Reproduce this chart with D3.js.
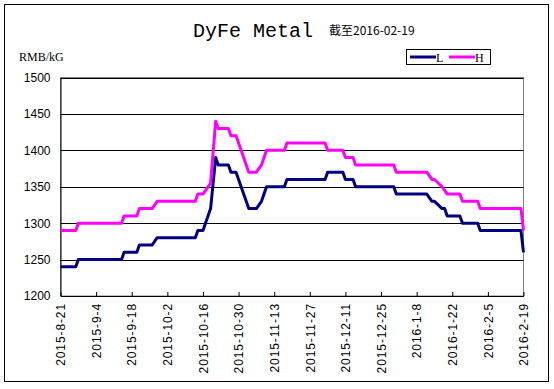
<!DOCTYPE html>
<html>
<head>
<meta charset="utf-8">
<script src="https://cdn.jsdelivr.net/npm/d3@7"></script>
<style>
  html, body { margin: 0; padding: 0; background: #fff; }
  svg { display: block; }
</style>
</head>
<body>
<div id="chart"></div>
<script>
// ---- data ----
const dates = [
  "2015-08-21","2015-08-27","2015-08-28","2015-09-14","2015-09-15","2015-09-20","2015-09-21",
  "2015-09-26","2015-09-28","2015-10-13","2015-10-14","2015-10-16","2015-10-19","2015-10-21",
  "2015-10-22","2015-10-26","2015-10-27","2015-10-29","2015-10-31","2015-11-03","2015-11-06",
  "2015-11-08","2015-11-10","2015-11-17","2015-11-18","2015-12-03","2015-12-04","2015-12-10",
  "2015-12-11","2015-12-14","2015-12-15","2015-12-30","2015-12-31","2016-01-12","2016-01-14",
  "2016-01-15","2016-01-18","2016-01-19","2016-01-20","2016-01-25","2016-01-26","2016-02-01",
  "2016-02-02","2016-02-18","2016-02-19"
];
const lowValues = [
  1240,1240,1250,1250,1260,1260,1270,
  1270,1280,1280,1290,1290,1320,1390,
  1380,1380,1370,1370,1350,1320,1320,
  1330,1350,1350,1360,1360,1370,1370,
  1360,1360,1350,1350,1340,1340,1330,
  1330,1320,1320,1310,1310,1300,1300,
  1290,1290,1260
];
const highValues = [
  1290,1290,1300,1300,1310,1310,1320,
  1320,1330,1330,1340,1340,1355,1440,
  1430,1430,1420,1420,1400,1370,1370,
  1380,1400,1400,1410,1410,1400,1400,
  1390,1390,1380,1380,1370,1370,1360,
  1360,1350,1345,1340,1340,1330,1330,
  1320,1320,1290
];
const xTickLabels = [
  "2015-8-21","2015-9-4","2015-9-18","2015-10-2","2015-10-16","2015-10-30","2015-11-13",
  "2015-11-27","2015-12-11","2015-12-25","2016-1-8","2016-1-22","2016-2-5","2016-2-19"
];
const yTicks = [1200,1250,1300,1350,1400,1450,1500];
const seriesNames = ["L","H"];
const seriesColors = ["#000080","#FF00FF"];
const titleText = "DyFe Metal";
const subtitleText = "截至2016-02-19";
const unitText = "RMB/kG";

// ---- layout ----
const W = 554, H = 389;
const plot = { left: 60.5, right: 523.5, top: 77.5, bottom: 296 };

const parse = d3.timeParse("%Y-%m-%d");
const tickDates = xTickLabels.map(s => {
  const p = s.split("-");
  return new Date(+p[0], +p[1]-1, +p[2]);
});

const svg = d3.select("#chart").append("svg")
  .attr("width", W).attr("height", H);

svg.append("rect").attr("x",0).attr("y",0).attr("width",W).attr("height",H).attr("fill","#fff");
// outer chart border
svg.append("rect").attr("x",4.5).attr("y",4.5).attr("width",544).attr("height",377)
  .attr("fill","none").attr("stroke","#000").attr("stroke-width",1);

const x = d3.scaleTime()
  .domain([tickDates[0], tickDates[tickDates.length-1]])
  .range([plot.left, plot.right]);
const y = d3.scaleLinear().domain([1200,1500]).range([plot.bottom, plot.top]);

// plot area border (gray)
svg.append("rect")
  .attr("x", plot.left).attr("y", plot.top)
  .attr("width", plot.right - plot.left).attr("height", plot.bottom - plot.top)
  .attr("fill","none").attr("stroke","#808080").attr("stroke-width",1);

// gridlines
svg.append("g").selectAll("line").data(yTicks.filter(v => v > 1200)).join("line")
  .attr("x1", plot.left).attr("x2", plot.right)
  .attr("y1", d => Math.round(y(d)) + 0.5).attr("y2", d => Math.round(y(d)) + 0.5)
  .attr("stroke","#000").attr("stroke-width",1);

// y axis
const yAxis = svg.append("g").attr("transform", `translate(${plot.left},0)`)
  .call(d3.axisLeft(y).tickValues(yTicks).tickFormat(d3.format("d")).tickSize(0).tickPadding(10));
yAxis.select(".domain").attr("stroke","#000");
yAxis.selectAll("text").attr("font-family","Liberation Sans, Arial, sans-serif")
  .attr("font-size","12px").attr("fill","#000");

// x axis
const fmt = d => `${d.getFullYear()}-${d.getMonth()+1}-${d.getDate()}`;
const xAxis = svg.append("g").attr("transform", `translate(0,${plot.bottom})`)
  .call(d3.axisBottom(x).tickValues(tickDates).tickFormat(fmt).tickSizeInner(-4).tickSizeOuter(0));
xAxis.select(".domain").attr("stroke","#000");
xAxis.selectAll(".tick line").attr("stroke","#000");
xAxis.selectAll("text")
  .attr("font-family","Liberation Sans, Arial, sans-serif").attr("font-size","12px").attr("fill","#000")
  .attr("letter-spacing","0.9px")
  .attr("transform","rotate(-90)")
  .attr("text-anchor","end")
  .attr("x",-7).attr("y",0).attr("dy","0.35em");

// lines
const rows = dates.map((d,i) => ({ date: parse(d), L: lowValues[i], H: highValues[i] }));
const keys = ["L","H"];
keys.forEach((k, idx) => {
  const line = d3.line().x(d => x(d.date)).y(d => y(d[k]));
  svg.append("path").datum(rows)
    .attr("d", line)
    .attr("fill","none")
    .attr("stroke", seriesColors[idx])
    .attr("stroke-width", 3)
    .attr("stroke-linejoin","round");
});

// titles
svg.append("text").attr("x", 253).attr("y", 37).attr("text-anchor","middle")
  .attr("font-family","Liberation Mono, DejaVu Sans Mono, monospace").attr("font-size","20px")
  .attr("fill","#000").text(titleText);
svg.append("text").attr("x", 329).attr("y", 35)
  .attr("font-family","Noto Sans CJK SC, sans-serif").attr("font-size","12px")
  .attr("fill","#000").text(subtitleText);
svg.append("text").attr("x", 19).attr("y", 61)
  .attr("font-family","Liberation Serif, serif").attr("font-size","12px")
  .attr("fill","#000").text(unitText);

// legend
const lg = svg.append("g");
lg.append("rect").attr("x",406.5).attr("y",49.5).attr("width",84).attr("height",15)
  .attr("fill","#fff").attr("stroke","#000");
const legendItems = [{x: 410, name: seriesNames[0], color: seriesColors[0]},
                     {x: 449, name: seriesNames[1], color: seriesColors[1]}];
legendItems.forEach(it => {
  lg.append("line").attr("x1", it.x).attr("x2", it.x + 26).attr("y1",57).attr("y2",57)
    .attr("stroke", it.color).attr("stroke-width",3);
  lg.append("text").attr("x", it.x + 26).attr("y", 61.5)
    .attr("font-family","Liberation Serif, serif").attr("font-size","12px")
    .attr("fill","#000").text(it.name);
});
</script>
</body>
</html>
